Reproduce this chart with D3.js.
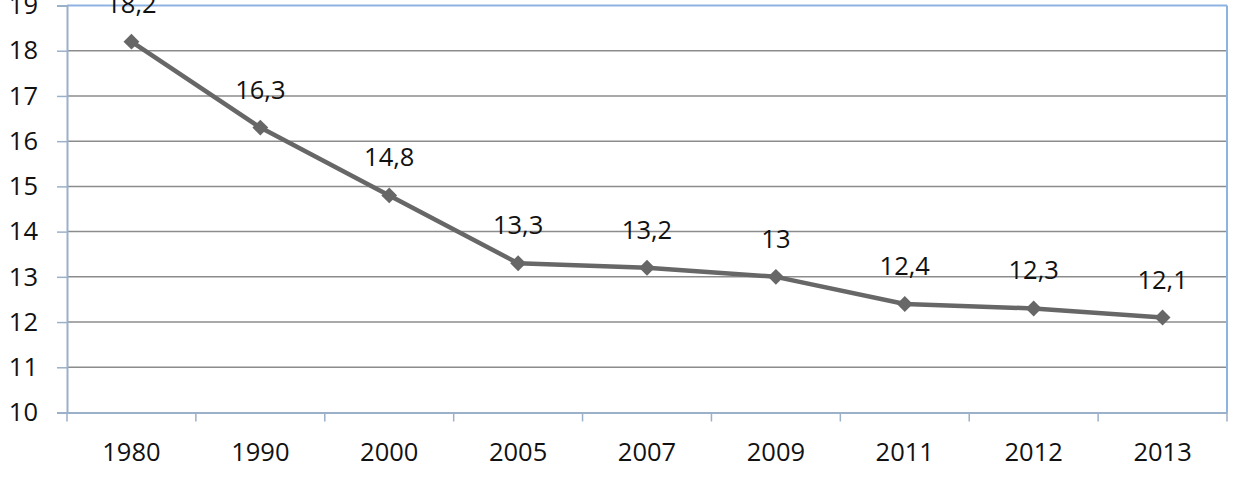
<!DOCTYPE html>
<html><head><meta charset="utf-8">
<script src="https://cdn.jsdelivr.net/npm/d3@7"></script>
<style>body{margin:0;background:#fff}svg{display:block}text{font-family:"Open Sans",sans-serif}</style>
</head><body><svg id="c" width="1236" height="478"></svg>
<script>
const categories = ["1980","1990","2000","2005","2007","2009","2011","2012","2013"];
const values = [18.2,16.3,14.8,13.3,13.2,13,12.4,12.3,12.1];
const labels = ["18,2","16,3","14,8","13,3","13,2","13","12,4","12,3","12,1"];
const yTicks = [10,11,12,13,14,15,16,17,18,19];

const svg = d3.select("#c");
const L = 67, R = 1227, T = 5.5, B = 412.5;
const FS = 25.5;
const x = d3.scaleBand().domain(categories).range([L, R]);
const y = d3.scaleLinear().domain([10, 19]).range([B, T]);

// gridlines
svg.append("g").selectAll("line").data(yTicks.filter(d => d > 10 && d < 19)).join("line")
  .attr("x1", L).attr("x2", R).attr("y1", d => y(d)).attr("y2", d => y(d))
  .attr("stroke", "#8c8c8c").attr("stroke-width", 1.5);

// frame: top & right light blue
svg.append("line").attr("x1", L).attr("x2", R).attr("y1", y(19)).attr("y2", y(19)).attr("stroke", "#8db3e2").attr("stroke-width", 2);
svg.append("line").attr("x1", R).attr("x2", R).attr("y1", T).attr("y2", B).attr("stroke", "#8db3e2").attr("stroke-width", 2);

// y axis
const ya = svg.append("g").attr("transform", `translate(${L},0)`)
  .call(d3.axisLeft(y).tickValues(yTicks).tickSize(10).tickPadding(19).tickFormat(d3.format("d")));
ya.select(".domain").attr("stroke", "#9bb0c9").attr("stroke-width", 2);
ya.selectAll(".tick line").attr("stroke", "#9bb0c9").attr("stroke-width", 1.5);
ya.selectAll("text").attr("font-size", FS).attr("fill", "#111").attr("font-family", "Open Sans");

// x axis
const xa = svg.append("g").attr("transform", `translate(0,${B})`)
  .call(d3.axisBottom(x).tickSize(0).tickPadding(30));
xa.select(".domain").attr("stroke", "#9bb0c9").attr("stroke-width", 2);
xa.selectAll("text").attr("font-size", FS).attr("fill", "#111").attr("font-family", "Open Sans");
// category boundary ticks
const bounds = categories.map(c => x(c)).concat([R]);
svg.append("g").selectAll("line").data(bounds).join("line")
  .attr("x1", d => d).attr("x2", d => d).attr("y1", B).attr("y2", B + 9)
  .attr("stroke", "#9bb0c9").attr("stroke-width", 1.5);

const cx = d => x(d) + x.bandwidth() / 2;

// line
svg.append("path").datum(values)
  .attr("d", d3.line().x((d, i) => cx(categories[i])).y(d => y(d)))
  .attr("fill", "none").attr("stroke", "#676767").attr("stroke-width", 4.5).attr("stroke-linejoin", "round");

// markers
svg.append("g").selectAll("path").data(values).join("path")
  .attr("d", d3.symbol(d3.symbolDiamond2, 160))
  .attr("transform", (d, i) => `translate(${cx(categories[i])},${y(d)})`)
  .attr("fill", "#676767");

// data labels
svg.append("g").selectAll("text").data(values).join("text")
  .attr("x", (d, i) => cx(categories[i]))
  .attr("y", d => y(d) - 29)
  .attr("text-anchor", "middle").attr("font-size", FS).attr("fill", "#111")
  .text((d, i) => labels[i]);
</script></body></html>
